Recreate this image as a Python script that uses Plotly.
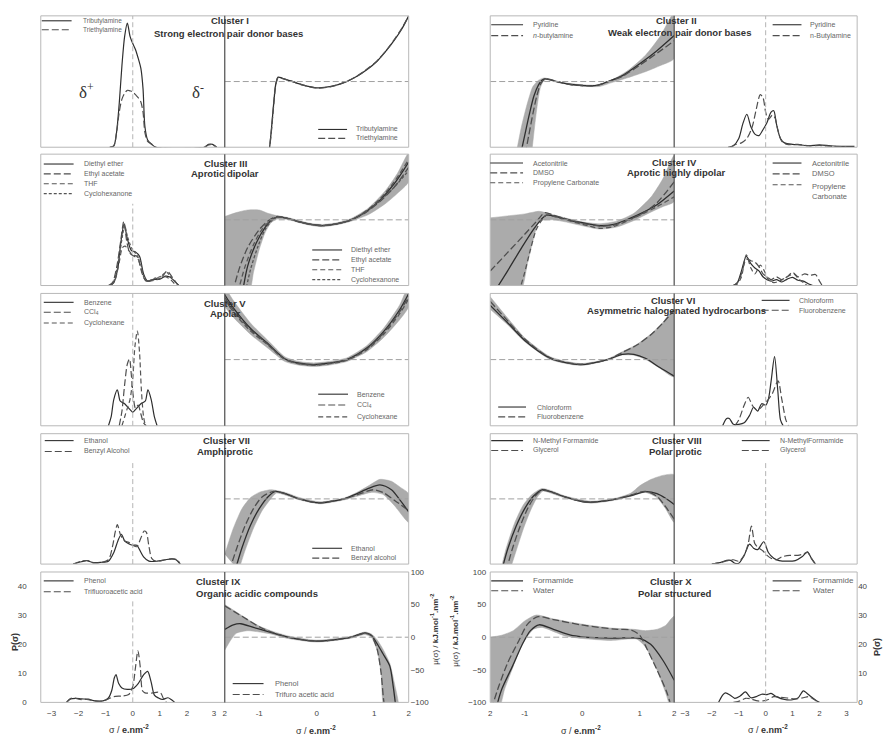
import plotly.graph_objects as go

# ===================== DATA =====================
# sigma in e.nm^-2 ; profile P(sigma) ; potential mu(sigma) in kJ.mol^-1.nm^-2

# --- Cluster I
c1_title = ["Cluster I", "Strong electron pair donor bases"]
c1_names = ["Tributylamine", "Triethylamine"]
c1_prof_sigma = [-0.85, -0.7, -0.6, -0.5, -0.4, -0.3, -0.2, -0.1, 0.0, 0.1, 0.2, 0.3, 0.38, 0.45, 0.55, 0.7, 0.85, 2.65, 2.8, 2.95, 3.1]
c1_prof_tributylamine = [0, 0.5, 5, 15, 28, 38, 42.5, 38, 35.5, 33.5, 30.5, 27, 20, 7, 2.5, 1, 0, 0, 1, 1, 0]
c1_prof_triethylamine = [0, 0.5, 5, 12, 16.5, 18.5, 19.5, 19.3, 19, 18, 17, 15.5, 12, 5, 2, 1, 0, 0, 0.8, 0.8, 0]
c1_pot_sigma = [-0.83, -0.79, -0.75, -0.71, -0.67, -0.6, -0.45, -0.25, 0.0, 0.25, 0.52, 0.7, 0.87, 1.05, 1.21, 1.35, 1.48, 1.6]
c1_pot_tributylamine = [-110, -75, -35, -3, 6.8, 5, 1, -5, -9.5, -7.5, 0, 8, 18, 31, 47, 63, 80, 100]
c1_pot_triethylamine = [-110, -77, -37, -4, 6.5, 4.8, 0.8, -5.2, -9.8, -7.8, 0, 8.2, 18.5, 31.5, 47.5, 64, 81, 100]

# --- Cluster II
c2_title = ["Cluster II", "Weak electron pair donor bases"]
c2_pot_names = ["Pyridine", "<i>n</i>-butylamine"]
c2_prof_names = ["Pyridine", "n-Butylamine"]
c2_prof_pyridine_sigma = [-1.4, -1.2, -1.0, -0.85, -0.7, -0.55, -0.4, -0.25, -0.1, 0.05, 0.2, 0.3, 0.4, 0.55, 0.7, 1.0, 1.3, 1.6, 2.0, 2.4, 2.8, 3.3]
c2_prof_pyridine = [0, 0.5, 3, 8, 11.3, 7, 4.5, 4, 6, 8.5, 12, 12.5, 8, 3, 1.5, 1, 0.8, 0.5, 0.8, 0.5, 0.3, 0.3]
c2_prof_butylamine_sigma = [-1.3, -1.1, -0.9, -0.7, -0.5, -0.35, -0.2, -0.1, 0.0, 0.1, 0.25, 0.35, 0.45, 0.6, 0.8, 1.2, 1.6, 2.0, 2.5, 3.0]
c2_prof_butylamine = [0, 1, 1.5, 3, 7, 13, 18, 17, 12, 9.5, 11, 10, 6, 2, 1, 1, 0.5, 0.6, 0.3, 0.2]
c2_pot_pyridine_sigma = [-1.07, -1.0, -0.92, -0.84, -0.76, -0.7, -0.65, -0.55, -0.4, -0.2, 0.0, 0.25, 0.45, 0.7, 1.0, 1.3, 1.6]
c2_pot_pyridine = [-110, -82, -50, -22, -5, 2, 4, 2.5, -1, -4.5, -6, -6, 0, 9, 27, 47, 70]
c2_pot_butylamine_sigma = [-0.99, -0.93, -0.86, -0.79, -0.73, -0.68, -0.63, -0.55, -0.4, -0.2, 0.0, 0.25, 0.45, 0.7, 1.0, 1.3, 1.6]
c2_pot_butylamine = [-110, -82, -50, -22, -5, 1.5, 4, 3, -1, -4.5, -6, -6, 0, 8, 25, 43, 62]
c2_band_upper_sigma = [-1.15, -1.06, -0.96, -0.86, -0.76, -0.66, -0.4, 0.0, 0.3, 0.5, 0.8, 1.1, 1.35, 1.6]
c2_band_upper = [-110, -70, -35, -8, 2, 5.5, -0.5, -5, -5, 1.5, 17, 40, 68, 105]
c2_band_lower_sigma = [-0.88, -0.83, -0.78, -0.73, -0.68, -0.63, -0.4, 0.0, 0.3, 0.5, 0.8, 1.1, 1.35, 1.6]
c2_band_lower = [-110, -70, -35, -10, 0, 3, -2, -7, -7.5, -2, 6, 15, 24, 35]

# --- Cluster III
c3_title = ["Cluster III", "Aprotic dipolar"]
c3_names = ["Diethyl ether", "Ethyl acetate", "THF", "Cyclohexanone"]
c3_prof_ether_sigma = [-0.85, -0.7, -0.55, -0.45, -0.32, -0.2, -0.05, 0.1, 0.25, 0.4, 0.55, 0.75, 1.0, 1.2, 1.35, 1.55, 1.7]
c3_prof_ether = [0, 1, 6, 14, 21, 16, 12, 11.5, 10, 4, 1.5, 2, 2.2, 3.2, 3, 1.5, 0]
c3_prof_acetate_sigma = [-0.9, -0.75, -0.6, -0.45, -0.33, -0.22, -0.1, 0.05, 0.2, 0.35, 0.5, 0.7, 0.9, 1.1, 1.27, 1.45, 1.6, 1.7]
c3_prof_acetate = [0, 1, 6, 15, 22, 15, 11, 10, 9, 4, 1.5, 2, 2.5, 3.3, 5, 3, 1, 0]
c3_prof_thf_sigma = [-0.8, -0.65, -0.5, -0.38, -0.28, -0.15, 0.0, 0.15, 0.3, 0.45, 0.6, 0.9, 1.2, 1.4, 1.6]
c3_prof_thf = [0, 2, 8, 13, 13.5, 12, 10.5, 10, 6, 2, 1.5, 2, 3, 2, 0]
c3_prof_cyclohexanone_sigma = [-0.85, -0.7, -0.5, -0.38, -0.3, -0.2, -0.05, 0.1, 0.25, 0.4, 0.55, 0.8, 1.0, 1.25, 1.4, 1.6, 1.7]
c3_prof_cyclohexanone = [0, 1.5, 10, 17, 20.5, 17, 13, 11, 9, 3.5, 1.5, 2.5, 3, 4.5, 3, 1, 0]
c3_pot_ether_sigma = [-1.29, -1.2, -1.05, -0.9, -0.78, -0.68, -0.5, -0.3, -0.1, 0.1, 0.35, 0.6, 0.85, 1.1, 1.35, 1.6]
c3_pot_ether = [-110, -70, -35, -12, 0, 4.5, 2, -3, -7, -8.7, -6, 0, 12, 30, 55, 88]
c3_pot_acetate_sigma = [-1.46, -1.35, -1.2, -1.0, -0.85, -0.7, -0.5, -0.3, -0.1, 0.1, 0.35, 0.6, 0.85, 1.1, 1.35, 1.6]
c3_pot_acetate = [-110, -75, -42, -15, -2, 5, 2, -3, -7, -8.7, -6, 0, 11, 28, 50, 80]
c3_pot_thf_sigma = [-1.37, -1.25, -1.1, -0.95, -0.8, -0.68, -0.5, -0.3, -0.1, 0.1, 0.35, 0.6, 0.85, 1.1, 1.35, 1.6]
c3_pot_thf = [-110, -72, -38, -14, -1, 4.5, 2, -3, -7, -8.7, -6, 0, 13, 32, 58, 92]
c3_pot_cyclohexanone_sigma = [-1.24, -1.15, -1.02, -0.9, -0.78, -0.68, -0.5, -0.3, -0.1, 0.1, 0.35, 0.6, 0.85, 1.1, 1.35, 1.6]
c3_pot_cyclohexanone = [-110, -75, -40, -15, -1, 4.5, 2, -3, -7, -8.7, -6, 0, 12, 29, 50, 75]
c3_band_upper_sigma = [-1.6, -1.4, -1.2, -1.0, -0.85, -0.7, -0.5, -0.3, -0.1, 0.1, 0.35, 0.6, 0.9, 1.2, 1.4, 1.6]
c3_band_upper = [5, 11, 15, 15, 10, 6.5, 3.5, -1.5, -5.5, -7, -4.5, 2, 18, 45, 70, 102]
c3_band_lower_sigma = [-1.6, -1.18, -1.1, -1.0, -0.9, -0.8, -0.7, -0.5, -0.3, -0.1, 0.1, 0.35, 0.6, 0.9, 1.2, 1.4, 1.6]
c3_band_lower = [-110, -110, -80, -45, -20, -5, 1, 0.5, -4.5, -8.5, -10.5, -7.5, -2, 8, 25, 40, 58]

# --- Cluster IV
c4_title = ["Cluster IV", "Aprotic highly dipolar"]
c4_pot_names = ["Acetonitrile", "DMSO", "Propylene Carbonate"]
c4_prof_names = ["Acetonitrile", "DMSO", "Propylene<br>Carbonate"]
c4_prof_acetonitrile_sigma = [-1.2, -1.05, -0.9, -0.72, -0.55, -0.4, -0.25, -0.1, 0.05, 0.2, 0.4, 0.6, 0.8, 1.0, 1.2, 1.4, 1.6, 1.75]
c4_prof_acetonitrile = [0, 1, 5, 10, 7.5, 6, 5, 3, 2, 1.5, 2, 1.2, 2.2, 2.8, 1.8, 1.5, 0.5, 0]
c4_prof_dmso_sigma = [-1.2, -1.05, -0.9, -0.72, -0.55, -0.4, -0.25, -0.1, 0.05, 0.2, 0.4, 0.6, 0.8, 1.0, 1.2, 1.45, 1.65, 1.85, 2.0, 2.1]
c4_prof_dmso = [0, 1, 4, 9, 8.5, 8, 6.5, 4, 3, 2, 3, 2, 3, 4.5, 3, 4, 3.5, 3.8, 1.5, 0]
c4_prof_carbonate_sigma = [-1.2, -1.05, -0.9, -0.72, -0.55, -0.4, -0.2, -0.05, 0.1, 0.3, 0.5, 0.7, 0.9, 1.05, 1.2, 1.4, 1.55]
c4_prof_carbonate = [0, 0.5, 3, 10.5, 6, 4, 7, 5, 2, 1, 1.5, 2.5, 3.5, 4, 2.5, 1, 0]
c4_pot_acetonitrile_sigma = [-1.53, -1.3, -1.05, -0.85, -0.72, -0.62, -0.45, -0.2, 0.1, 0.32, 0.55, 0.8, 1.05, 1.3, 1.6]
c4_pot_acetonitrile = [-110, -78, -42, -15, 0, 7, 5, -1, -6, -9, -7, 1, 11, 23, 44]
c4_pot_dmso_sigma = [-1.6, -1.3, -1.0, -0.8, -0.65, -0.5, -0.3, 0.0, 0.32, 0.55, 0.8, 1.05, 1.3, 1.6]
c4_pot_dmso = [-78, -50, -22, -3, 11, 7, 2, -5, -9.5, -8, 0, 10, 26, 58]
c4_pot_carbonate_sigma = [-1.1, -1.0, -0.9, -0.8, -0.7, -0.62, -0.45, -0.2, 0.1, 0.32, 0.55, 0.8, 1.05, 1.3, 1.6]
c4_pot_carbonate = [-110, -80, -45, -15, 0, 7, 4, -2, -9, -13, -10, -1, 9, 20, 35]
c4_band_upper_sigma = [-1.6, -1.3, -1.0, -0.75, -0.6, -0.3, 0.0, 0.3, 0.6, 0.9, 1.2, 1.4, 1.6]
c4_band_upper = [3, 6, 9, 13, 10, 3, -3, -6, -2, 10, 35, 62, 98]
c4_band_lower_sigma = [-1.6, -1.08, -0.95, -0.85, -0.78, -0.7, -0.5, -0.3, 0.0, 0.3, 0.6, 0.9, 1.2, 1.4, 1.6]
c4_band_lower = [-110, -110, -65, -30, -8, -1, 0, -3, -9, -14, -11, -1, 12, 20, 28]

# --- Cluster V
c5_title = ["Cluster V", "Apolar"]
c5_names = ["Benzene", "CCl<sub>4</sub>", "Cyclohexane"]
c5_prof_benzene_sigma = [-0.9, -0.8, -0.7, -0.57, -0.47, -0.4, -0.3, -0.2, -0.1, 0.0, 0.1, 0.2, 0.3, 0.4, 0.47, 0.56, 0.68, 0.8, 0.9]
c5_prof_benzene = [0, 3, 9, 12.2, 8.5, 8, 7.5, 6.5, 5.5, 4.6, 5.5, 6.5, 7.5, 8, 8.5, 12.2, 9, 3, 0]
c5_prof_ccl4_sigma = [-0.5, -0.4, -0.3, -0.2, -0.12, -0.05, 0.02, 0.1, 0.2, 0.3, 0.4, 0.5]
c5_prof_ccl4 = [0, 5, 14, 21, 22.7, 17, 10, 6, 7, 4, 1, 0]
c5_prof_cyclohexane_sigma = [-0.4, -0.3, -0.2, -0.1, 0.0, 0.08, 0.17, 0.25, 0.32, 0.4, 0.47]
c5_prof_cyclohexane = [0, 3, 6, 9, 16, 27, 32.2, 25, 12, 3, 0]
c5_pot_sigma = [-1.6, -1.44, -1.15, -0.86, -0.55, -0.3, -0.05, 0.2, 0.52, 0.87, 1.16, 1.44, 1.6]
c5_pot_benzene = [98, 77, 47, 25, 1, -5.5, -7.5, -5.5, 0, 17.5, 42, 75, 100]
c5_pot_ccl4 = [94, 74, 45, 24, 0.5, -6, -8, -6, -0.5, 16, 40, 72, 96]
c5_pot_cyclohexane = [90, 71, 43, 23, 0, -6.5, -8.5, -6.5, -1, 15, 38, 69, 92]
c5_band_upper = [110, 88, 55, 30, 4, -3, -5, -3, 2.5, 21, 47, 82, 112]
c5_band_lower = [80, 63, 38, 18, -3, -8.5, -10.5, -8.5, -3, 12, 33, 60, 80]

# --- Cluster VI
c6_title = ["Cluster VI", "Asymmetric halogenated hydrocarbons"]
c6_names = ["Chloroform", "Fluorobenzene"]
c6_prof_chloroform_sigma = [-1.6, -1.45, -1.35, -1.2, -1.0, -0.8, -0.6, -0.45, -0.3, -0.15, 0.0, 0.1, 0.2, 0.33, 0.45, 0.55, 0.65]
c6_prof_chloroform = [0, 2.5, 2.5, 0.5, 0.5, 1, 3.5, 6.3, 5, 7.5, 7, 9, 15, 23.5, 12, 2, 0]
c6_prof_fluorobenzene_sigma = [-1.15, -1.0, -0.8, -0.65, -0.5, -0.35, -0.2, -0.05, 0.1, 0.25, 0.46, 0.6, 0.75, 0.85]
c6_prof_fluorobenzene = [0, 2, 7, 9.7, 7, 5.5, 6, 7.5, 9, 11, 15.3, 9, 2, 0]
c6_pot_chloroform_sigma = [-1.6, -1.29, -1.0, -0.55, -0.03, 0.44, 0.7, 0.9, 1.1, 1.35, 1.6]
c6_pot_chloroform = [82, 55, 29, 2, -7.5, 0, 8, 8, 2, -12, -25]
c6_pot_fluorobenzene_sigma = [-1.6, -1.29, -1.0, -0.55, -0.03, 0.44, 0.7, 0.95, 1.2, 1.4, 1.6]
c6_pot_fluorobenzene = [88, 58, 31, 2.5, -7, 0, 11, 22, 38, 55, 75]
c6_band_upper_sigma = [-1.6, -1.29, -1.0, -0.55, -0.03, 0.44, 0.7, 0.95, 1.2, 1.4, 1.6]
c6_band_upper = [95, 62, 33, 4, -6, 1, 12, 23, 39, 56, 76]
c6_band_lower_sigma = [-1.6, -1.29, -1.0, -0.55, -0.03, 0.44, 0.7, 0.9, 1.1, 1.35, 1.6]
c6_band_lower = [76, 52, 27, 0, -9, -1, 7, 6.5, 0.5, -13, -26]

# --- Cluster VII
c7_title = ["Cluster VII", "Amphiprotic"]
c7_prof_names = ["Ethanol", "Benzyl Alcohol"]
c7_pot_names = ["Ethanol", "Benzyl alcohol"]
c7_prof_ethanol_sigma = [-2.2, -1.9, -1.7, -1.5, -1.2, -0.9, -0.7, -0.55, -0.42, -0.3, -0.15, 0.0, 0.15, 0.25, 0.4, 0.6, 0.9, 1.2, 1.45, 1.6, 1.75]
c7_prof_ethanol = [0, 0.8, 1.2, 0.6, 0.6, 1, 4, 8, 10.3, 8, 7, 6.5, 6.5, 5, 2.5, 1, 1, 1.5, 1.8, 1.5, 0]
c7_prof_benzyl_sigma = [-2.2, -1.9, -1.65, -1.5, -1.2, -0.9, -0.75, -0.65, -0.57, -0.45, -0.3, -0.15, 0.0, 0.15, 0.3, 0.42, 0.5, 0.6, 0.7, 0.85, 1.2, 1.45, 1.65, 1.75]
c7_prof_benzyl = [0, 1, 1.2, 0.5, 0.5, 1.5, 6, 11, 13.6, 10, 8, 7.5, 6.5, 6, 9, 11.4, 11, 6, 2, 1, 1.5, 1.8, 1.5, 0]
c7_pot_ethanol_sigma = [-1.42, -1.3, -1.15, -1.0, -0.85, -0.72, -0.55, -0.3, -0.1, 0.06, 0.3, 0.48, 0.7, 0.9, 1.1, 1.3, 1.45, 1.6]
c7_pot_ethanol = [-110, -75, -40, -15, 3, 11.5, 8, 0, -4.5, -6, -3, 0, 8, 16, 21.5, 14, -2, -20]
c7_pot_benzyl_sigma = [-1.52, -1.4, -1.25, -1.1, -0.95, -0.75, -0.55, -0.3, -0.1, 0.06, 0.3, 0.48, 0.7, 0.98, 1.15, 1.35, 1.6]
c7_pot_benzyl = [-110, -78, -42, -15, 3, 11.5, 8, 0, -4.5, -6, -3, 0, 6, 14, 10, -2, -18]
c7_band_upper_sigma = [-1.6, -1.45, -1.3, -1.15, -1.0, -0.8, -0.55, -0.3, 0.06, 0.48, 0.7, 0.9, 1.1, 1.3, 1.45, 1.6]
c7_band_upper = [-85, -45, -15, 2, 10, 14, 10, 2, -4.5, 1.5, 10, 20, 30, 27, 18, 8]
c7_band_lower_sigma = [-1.36, -1.25, -1.1, -0.95, -0.8, -0.7, -0.55, -0.3, 0.06, 0.48, 0.7, 0.95, 1.15, 1.35, 1.6]
c7_band_lower = [-110, -80, -45, -18, 0, 9, 6, -1.5, -7.5, -1.5, 4, 10, 7, -10, -36]

# --- Cluster VIII
c8_title = ["Cluster VIII", "Polar protic"]
c8_pot_names = ["N-Methyl Formamide", "Glycerol"]
c8_prof_names = ["N-MethylFormamide", "Glycerol"]
c8_prof_nmf_sigma = [-2.0, -1.7, -1.45, -1.3, -1.15, -1.0, -0.8, -0.6, -0.45, -0.3, -0.07, 0.1, 0.3, 0.5, 0.8, 1.1, 1.35, 1.55, 1.7, 1.85]
c8_prof_nmf = [0, 0.5, 1.3, 1.3, 0.3, 0.3, 3, 6.9, 5.5, 5, 7.7, 4, 2, 1.2, 1, 1.2, 2.5, 4.2, 2, 0]
c8_prof_glycerol_sigma = [-2.0, -1.7, -1.4, -1.2, -1.0, -0.8, -0.65, -0.53, -0.4, -0.25, -0.1, 0.05, 0.2, 0.4, 0.6, 0.9, 1.2, 1.4, 1.56, 1.7, 1.85]
c8_prof_glycerol = [0, 0.5, 1.2, 1.5, 1, 3, 7, 13.1, 7, 5.5, 4.5, 3, 2, 1.5, 2.5, 3, 3, 3.5, 4, 2, 0]
c8_pot_nmf_sigma = [-1.4, -1.3, -1.15, -1.0, -0.85, -0.7, -0.55, -0.3, 0.0, 0.15, 0.4, 0.6, 0.85, 1.1, 1.3, 1.45, 1.6]
c8_pot_nmf = [-110, -78, -42, -15, 4, 14, 11, 3, -4, -5, -3, 0, 5, 11, 8, 1, -8.5]
c8_pot_glycerol_sigma = [-1.32, -1.22, -1.08, -0.95, -0.82, -0.7, -0.55, -0.3, 0.0, 0.15, 0.4, 0.6, 0.85, 1.1, 1.3, 1.45, 1.6]
c8_pot_glycerol = [-110, -78, -42, -15, 4, 13, 11, 3, -4, -5, -3, 0, 6, 11.5, 4, -12, -31]
c8_band_upper_sigma = [-1.42, -1.32, -1.18, -1.03, -0.87, -0.7, -0.55, -0.3, 0.15, 0.6, 0.85, 1.0, 1.2, 1.4, 1.6]
c8_band_upper = [-110, -75, -38, -10, 7, 16, 13, 4.5, -3.5, 1.5, 9, 20, 30, 36, 37]
c8_band_lower_sigma = [-1.26, -1.15, -1.02, -0.9, -0.78, -0.68, -0.55, -0.3, 0.15, 0.6, 0.85, 1.1, 1.3, 1.45, 1.6]
c8_band_lower = [-110, -80, -45, -18, 3, 12, 9, 1.5, -6.5, -1.5, 4, 10, 2, -15, -36]

# --- Cluster IX
c9_title = ["Cluster IX", "Organic acidic compounds"]
c9_prof_names = ["Phenol", "Trifluoroacetic acid"]
c9_pot_names = ["Phenol", "Trifuro acetic acid"]
c9_prof_phenol_sigma = [-2.45, -2.3, -2.1, -1.9, -1.65, -1.4, -1.1, -0.9, -0.78, -0.68, -0.62, -0.52, -0.4, -0.2, 0.0, 0.2, 0.4, 0.55, 0.68, 0.8, 0.95, 1.1, 1.3, 1.42, 1.55]
c9_prof_phenol = [0, 1.2, 1.4, 1.2, 1.1, 0.5, 0.5, 1.5, 4, 8.5, 9.6, 6.5, 5, 4.5, 4.7, 6.5, 9.5, 10.7, 7, 2.5, 1.5, 1, 1.6, 1, 0]
c9_prof_tfa_sigma = [-2.45, -2.3, -2.15, -1.95, -1.7, -1.4, -1.1, -0.9, -0.7, -0.4, -0.15, 0.0, 0.1, 0.19, 0.28, 0.36, 0.45, 0.7, 0.95, 1.05, 1.15, 1.25]
c9_prof_tfa = [0, 1.3, 1.5, 1, 1, 0.5, 0.5, 1.2, 2, 2.2, 2.7, 5.5, 12, 17.8, 12, 4, 3.3, 3.2, 3.5, 3, 1, 0]
c9_pot_phenol_sigma = [-1.6, -1.45, -1.32, -1.1, -0.86, -0.6, -0.3, 0.0, 0.3, 0.6, 0.84, 0.95, 1.04, 1.15, 1.27, 1.33, 1.38]
c9_pot_phenol = [12, 19, 20.6, 15, 9, 2.5, -3.5, -6, -4, 0, 6.5, 3, -8.5, -25, -44, -75, -110]
c9_pot_tfa_sigma = [-1.6, -1.3, -1.0, -0.8, -0.5, -0.2, 0.0, 0.3, 0.6, 0.84, 0.95, 1.05, 1.12, 1.17, 1.2]
c9_pot_tfa = [48, 32, 16, 8, 0, -4.5, -6, -4.5, 0, 6, 2, -18, -55, -100, -110]
c9_band_upper_sigma = [-1.6, -1.3, -1.0, -0.8, -0.5, 0.0, 0.6, 0.84, 0.95, 1.05, 1.15, 1.27, 1.35, 1.42]
c9_band_upper = [50, 33, 17, 10, 2, -4.5, 1.5, 8, 5, -4, -18, -40, -70, -110]
c9_band_lower_sigma = [-1.6, -1.5, -1.4, -1.2, -1.0, -0.8, -0.5, 0.0, 0.6, 0.84, 0.95, 1.05, 1.12, 1.18]
c9_band_lower = [-20, -5, 6, 10, 8, 5, -2, -7.5, -1.5, 4, 0, -20, -55, -110]

# --- Cluster X
c10_title = ["Cluster X", "Polar structured"]
c10_names = ["Formamide", "Water"]
c10_prof_formamide_sigma = [-1.75, -1.6, -1.5, -1.3, -1.15, -0.95, -0.75, -0.55, -0.35, -0.15, 0.05, 0.2, 0.4, 0.7, 1.0, 1.2, 1.4, 1.55, 1.75, 1.9, 2.0]
c10_prof_formamide = [0, 2.5, 3.3, 2.4, 1.4, 2.2, 3.6, 1.6, 2, 2.8, 2.7, 3.1, 2, 1, 0.9, 1.5, 4, 3, 1.5, 0.5, 0]
c10_prof_water_sigma = [-1.2, -0.95, -0.75, -0.55, -0.3, -0.1, 0.1, 0.3, 0.5, 0.8, 1.1, 1.4, 1.6, 1.8, 1.95]
c10_prof_water = [0, 0.5, 1.4, 1.2, 0.5, 0.5, 1, 2, 1.8, 1.5, 1.2, 1.6, 2, 1, 0]
c10_pot_formamide_sigma = [-1.5, -1.4, -1.21, -1.03, -0.9, -0.75, -0.5, -0.2, 0.0, 0.5, 0.9, 1.0, 1.19, 1.4, 1.6]
c10_pot_formamide = [-110, -80, -44, -9, 10, 19, 12, 3, 0.5, -1.5, -1, -2, -11, -35, -66]
c10_pot_water_sigma = [-1.58, -1.45, -1.3, -1.1, -0.95, -0.77, -0.5, -0.03, 0.3, 0.61, 0.85, 1.0, 1.13, 1.3, 1.47, 1.56]
c10_pot_water = [-110, -75, -40, -5, 20, 31.5, 27, 19, 15, 12, 11, 3, -18.5, -50, -84, -110]
c10_band_upper_sigma = [-1.6, -1.4, -1.2, -1.0, -0.8, -0.5, 0.0, 0.5, 0.9, 1.1, 1.3, 1.45, 1.6]
c10_band_upper = [0, 3, 10, 25, 34, 28, 20, 14, 12, 10, 12, 18, 32]
c10_band_lower_sigma = [-1.6, -1.45, -1.35, -1.2, -1.05, -0.85, -0.7, -0.3, 0.0, 0.5, 0.95, 1.1, 1.3, 1.45, 1.55, 1.6]
c10_band_lower = [-110, -110, -80, -45, -12, 12, 15, 2, -2, -5, -3, -15, -50, -85, -110, -110]

# axis tick labels
profile_ticks = [-3, -2, -1, 0, 1, 2, 3]
potential_tickvals = [-1.599, -1, 0, 1, 1.599]
potential_ticktext = ["2", "-1", "0", "1", "2"]
profile_yticks = [0, 10, 20, 30, 40]
potential_yticks = [-100, -50, 0, 50, 100]

# ===================== PANEL SPECS =====================
CLUSTERS = [
    dict(title=c1_title, prof_names=c1_names, pot_names=c1_names,
         prof=[(c1_prof_sigma, c1_prof_tributylamine), (c1_prof_sigma, c1_prof_triethylamine)],
         pot=[(c1_pot_sigma, c1_pot_tributylamine), (c1_pot_sigma, c1_pot_triethylamine)],
         band=None),
    dict(title=c2_title, prof_names=c2_prof_names, pot_names=c2_pot_names,
         prof=[(c2_prof_pyridine_sigma, c2_prof_pyridine), (c2_prof_butylamine_sigma, c2_prof_butylamine)],
         pot=[(c2_pot_pyridine_sigma, c2_pot_pyridine), (c2_pot_butylamine_sigma, c2_pot_butylamine)],
         band=(c2_band_upper_sigma, c2_band_upper, c2_band_lower_sigma, c2_band_lower)),
    dict(title=c3_title, prof_names=c3_names, pot_names=c3_names,
         prof=[(c3_prof_ether_sigma, c3_prof_ether), (c3_prof_acetate_sigma, c3_prof_acetate),
               (c3_prof_thf_sigma, c3_prof_thf), (c3_prof_cyclohexanone_sigma, c3_prof_cyclohexanone)],
         pot=[(c3_pot_ether_sigma, c3_pot_ether), (c3_pot_acetate_sigma, c3_pot_acetate),
              (c3_pot_thf_sigma, c3_pot_thf), (c3_pot_cyclohexanone_sigma, c3_pot_cyclohexanone)],
         band=(c3_band_upper_sigma, c3_band_upper, c3_band_lower_sigma, c3_band_lower)),
    dict(title=c4_title, prof_names=c4_prof_names, pot_names=c4_pot_names,
         prof=[(c4_prof_acetonitrile_sigma, c4_prof_acetonitrile), (c4_prof_dmso_sigma, c4_prof_dmso),
               (c4_prof_carbonate_sigma, c4_prof_carbonate)],
         pot=[(c4_pot_acetonitrile_sigma, c4_pot_acetonitrile), (c4_pot_dmso_sigma, c4_pot_dmso),
              (c4_pot_carbonate_sigma, c4_pot_carbonate)],
         band=(c4_band_upper_sigma, c4_band_upper, c4_band_lower_sigma, c4_band_lower)),
    dict(title=c5_title, prof_names=c5_names, pot_names=c5_names,
         prof=[(c5_prof_benzene_sigma, c5_prof_benzene), (c5_prof_ccl4_sigma, c5_prof_ccl4),
               (c5_prof_cyclohexane_sigma, c5_prof_cyclohexane)],
         pot=[(c5_pot_sigma, c5_pot_benzene), (c5_pot_sigma, c5_pot_ccl4), (c5_pot_sigma, c5_pot_cyclohexane)],
         band=(c5_pot_sigma, c5_band_upper, c5_pot_sigma, c5_band_lower)),
    dict(title=c6_title, prof_names=c6_names, pot_names=c6_names,
         prof=[(c6_prof_chloroform_sigma, c6_prof_chloroform), (c6_prof_fluorobenzene_sigma, c6_prof_fluorobenzene)],
         pot=[(c6_pot_chloroform_sigma, c6_pot_chloroform), (c6_pot_fluorobenzene_sigma, c6_pot_fluorobenzene)],
         band=(c6_band_upper_sigma, c6_band_upper, c6_band_lower_sigma, c6_band_lower)),
    dict(title=c7_title, prof_names=c7_prof_names, pot_names=c7_pot_names,
         prof=[(c7_prof_ethanol_sigma, c7_prof_ethanol), (c7_prof_benzyl_sigma, c7_prof_benzyl)],
         pot=[(c7_pot_ethanol_sigma, c7_pot_ethanol), (c7_pot_benzyl_sigma, c7_pot_benzyl)],
         band=(c7_band_upper_sigma, c7_band_upper, c7_band_lower_sigma, c7_band_lower)),
    dict(title=c8_title, prof_names=c8_prof_names, pot_names=c8_pot_names,
         prof=[(c8_prof_nmf_sigma, c8_prof_nmf), (c8_prof_glycerol_sigma, c8_prof_glycerol)],
         pot=[(c8_pot_nmf_sigma, c8_pot_nmf), (c8_pot_glycerol_sigma, c8_pot_glycerol)],
         band=(c8_band_upper_sigma, c8_band_upper, c8_band_lower_sigma, c8_band_lower)),
    dict(title=c9_title, prof_names=c9_prof_names, pot_names=c9_pot_names,
         prof=[(c9_prof_phenol_sigma, c9_prof_phenol), (c9_prof_tfa_sigma, c9_prof_tfa)],
         pot=[(c9_pot_phenol_sigma, c9_pot_phenol), (c9_pot_tfa_sigma, c9_pot_tfa)],
         band=(c9_band_upper_sigma, c9_band_upper, c9_band_lower_sigma, c9_band_lower)),
    dict(title=c10_title, prof_names=c10_names, pot_names=c10_names,
         prof=[(c10_prof_formamide_sigma, c10_prof_formamide), (c10_prof_water_sigma, c10_prof_water)],
         pot=[(c10_pot_formamide_sigma, c10_pot_formamide), (c10_pot_water_sigma, c10_pot_water)],
         band=(c10_band_upper_sigma, c10_band_upper, c10_band_lower_sigma, c10_band_lower)),
]

# ===================== STYLE / LAYOUT =====================
W, H = 887, 738
def fx(px): return px / W
def fy(py): return 1 - py / H

ROWS = [(12, 145), (152, 285), (293, 427), (435, 567), (575, 707)]
LEFT_COL = dict(prof=(39, 224), pot=(224, 409))
RIGHT_COL = dict(pot=(491, 676), prof=(676, 860))

DASHES = ["solid", "7px,3px", "5px,3px", "3px,2px"]
LCOLORS = ["#2e2e2e", "#4e4e4e", "#555555", "#555555"]
BAND_COLOR = "#ababab"
FONT = "Liberation Sans, Arial, sans-serif"

TITLE_POS = [
    [(229.7, 17), (227.3, 30)], [(678.7, 17), (681, 29)],
    [(224.7, 161), (223.8, 172)], [(676.2, 160), (678.2, 171)],
    [(224.7, 303), (224.2, 313)], [(675.3, 300), (678.2, 310)],
    [(225.5, 442), (224, 453)], [(678.7, 442), (677.3, 453)],
    [(218, 585), (256.8, 597)], [(672.7, 585), (677, 597)],
]
LEG = [
    dict(prof=(40, 70, 79, [17, 26], 6.5), pot=(318, 347, 354, [127, 136], 7)),
    dict(pot=(492, 524, 532, [21, 32], 7), prof=(775, 804, 811, [21, 32], 7)),
    dict(prof=(42, 72, 80, [162, 172, 182, 192], 7), pot=(312, 342, 349, [249, 259, 269, 279], 7)),
    dict(pot=(491, 524, 532, [161, 171, 181], 7), prof=(775, 804, 813, [161, 172, 183], 7.5)),
    dict(prof=(42, 72, 80, [302, 312, 323], 7), pot=(318, 348, 355, [395, 406, 418], 7)),
    dict(prof=(764, 792, 800, [300, 310], 7), pot=(499, 527, 536, [408, 418], 7)),
    dict(prof=(43, 72, 80, [442, 453], 7), pot=(312, 342, 349, [551, 561], 7)),
    dict(pot=(492, 524, 532, [442, 452], 7), prof=(744, 772, 780, [442, 452], 7)),
    dict(prof=(42, 72, 80, [584, 595], 7), pot=(232, 263, 273, [688, 699], 7.5)),
    dict(pot=(492, 524, 532, [584, 594], 8), prof=(775, 804, 814, [584, 594], 8)),
]
VLINE_TOP = [45, 45, 28, 45, 45, 36, 35, 35, 35, 45]

fig = go.Figure()
layout = {}
shapes = []
annotations = []


def ref(kind, n):
    return kind if n == 1 else f"{kind}{n}"


def axkey(kind, n):
    return f"{kind}axis" if n == 1 else f"{kind}axis{n}"


def add_legend(labels, spec):
    x0, x1, xt, rows, size = spec
    for i, (lab, yy) in enumerate(zip(labels, rows)):
        shapes.append(dict(type="line", xref="paper", yref="paper", x0=fx(x0), x1=fx(x1),
                           y0=fy(yy), y1=fy(yy), line=dict(color=LCOLORS[i], width=1.1, dash=DASHES[i])))
        if "<br>" in lab:
            annotations.append(dict(text=lab, x=fx(xt), y=fy(yy - size * 0.65), xref="paper", yref="paper",
                                    xanchor="left", yanchor="top", align="left", showarrow=False,
                                    font=dict(size=size, color="#666", family=FONT)))
        else:
            annotations.append(dict(text=lab, x=fx(xt), y=fy(yy), xref="paper", yref="paper",
                                    xanchor="left", yanchor="middle", showarrow=False,
                                    font=dict(size=size, color="#666", family=FONT)))


tickfont = dict(size=8, color="#444", family=FONT)

for k, c in enumerate(CLUSTERS):
    row, col = k // 2, k % 2
    top, bot = ROWS[row]
    cols = LEFT_COL if col == 0 else RIGHT_COL
    bottom = row == 4
    n_prof, n_pot = 2 * k + 1, 2 * k + 2

    layout[axkey("x", n_prof)] = dict(
        domain=[fx(cols["prof"][0]), fx(cols["prof"][1])], range=[-3.4, 3.4], anchor=ref("y", n_prof),
        showgrid=False, zeroline=False, showline=False, fixedrange=True,
        showticklabels=bottom, tickvals=profile_ticks, ticks="", ticklabelstandoff=5, tickfont=tickfont)
    layout[axkey("y", n_prof)] = dict(
        domain=[fy(bot), fy(top)], range=[0, 45], anchor=ref("x", n_prof),
        side="left" if col == 0 else "right",
        showgrid=False, zeroline=False, showline=False, fixedrange=True,
        showticklabels=bottom, tickvals=profile_yticks, ticks="",
        ticklabelstandoff=13 if col == 0 else 0, tickfont=tickfont)
    layout[axkey("x", n_pot)] = dict(
        domain=[fx(cols["pot"][0]), fx(cols["pot"][1])], range=[-1.6, 1.6], anchor=ref("y", n_pot),
        showgrid=False, zeroline=False, showline=False, fixedrange=True,
        showticklabels=bottom, tickvals=potential_tickvals, ticktext=potential_ticktext,
        ticks="", ticklabelstandoff=5, tickfont=tickfont)
    layout[axkey("y", n_pot)] = dict(
        domain=[fy(bot), fy(top)], range=[-100, 100], anchor=ref("x", n_pot),
        side="right" if col == 0 else "left",
        showgrid=False, zeroline=False, showline=False, fixedrange=True,
        showticklabels=bottom, tickvals=potential_yticks, ticks="",
        ticklabelstandoff=1 if col == 0 else 3, tickfont=tickfont)

    xp, yp = ref("x", n_prof), ref("y", n_prof)
    xq, yq = ref("x", n_pot), ref("y", n_pot)

    if c["band"] is not None:
        us, uv, ls, lv = c["band"]
        fig.add_trace(go.Scatter(x=list(us) + list(ls)[::-1], y=list(uv) + list(lv)[::-1],
                                 xaxis=xq, yaxis=yq, mode="lines", fill="toself",
                                 fillcolor=BAND_COLOR, line=dict(width=0.5, color=BAND_COLOR, shape="spline", smoothing=0.6),
                                 hoverinfo="skip", showlegend=False))
    for i, (s, v) in enumerate(c["pot"]):
        fig.add_trace(go.Scatter(x=s, y=v, xaxis=xq, yaxis=yq, mode="lines",
                                 line=dict(color=LCOLORS[i], width=1.3, dash=DASHES[i], shape="spline", smoothing=0.8),
                                 name=c["pot_names"][i], showlegend=False))
    for i, (s, v) in enumerate(c["prof"]):
        fig.add_trace(go.Scatter(x=s, y=v, xaxis=xp, yaxis=yp, mode="lines",
                                 line=dict(color=LCOLORS[i], width=1.2, dash=DASHES[i], shape="spline", smoothing=0.8),
                                 name=c["prof_names"][i], showlegend=False))

    shapes.append(dict(type="line", xref=xq, yref=yq, x0=-1.6, x1=1.6, y0=0, y1=0, layer="above",
                       line=dict(color="#a0a0a0", width=1, dash="6px,3px")))
    shapes.append(dict(type="line", xref=xp, yref=yp, x0=0, x1=0, y0=0, y1=VLINE_TOP[k], layer="above",
                       line=dict(color="#b4b4b4", width=1, dash="5px,3px")))

    x_left = min(cols["prof"][0], cols["pot"][0])
    x_right = max(cols["prof"][1], cols["pot"][1])
    x_div = cols["pot"][0] if col == 0 else cols["pot"][1]
    shapes.append(dict(type="rect", xref="paper", yref="paper", x0=fx(x_left), x1=fx(x_right),
                       y0=fy(bot), y1=fy(top), layer="above", line=dict(color="#b8b8b8", width=1)))
    shapes.append(dict(type="line", xref="paper", yref="paper", x0=fx(x_div), x1=fx(x_div),
                       y0=fy(bot), y1=fy(top), layer="above", line=dict(color="#5a5a5a", width=1.3)))

    for txt, (tx, ty) in zip(c["title"], TITLE_POS[k]):
        annotations.append(dict(text=f"<b>{txt}</b>", x=fx(tx), y=fy(ty), xref="paper", yref="paper",
                                xanchor="center", yanchor="middle", showarrow=False,
                                font=dict(size=9.5, color="#333", family=FONT)))
    add_legend(c["prof_names"], LEG[k]["prof"])
    add_legend(c["pot_names"], LEG[k]["pot"])

serif = "Liberation Serif, Times New Roman, serif"
annotations.append(dict(text="δ<sup>+</sup>", x=fx(75), y=fy(75), xref="paper", yref="paper", showarrow=False,
                        font=dict(size=17, color="#333", family=serif)))
annotations.append(dict(text="δ<sup>-</sup>", x=fx(189), y=fy(75), xref="paper", yref="paper", showarrow=False,
                        font=dict(size=17, color="#333", family=serif)))

axis_title_font = dict(size=9, color="#333", family=FONT)
mu_font = dict(size=8, color="#333", family=FONT)
mu_text = "μ(σ) / <b>kJ.mol<sup>-1</sup>.nm<sup>-2</sup></b>"
sig_text = "σ / <b>e.nm<sup>-2</sup></b>"
annotations += [
    dict(text="<b>P(σ)</b>", x=fx(13), y=fy(646), xref="paper", yref="paper", textangle=-90,
         xanchor="center", yanchor="middle", showarrow=False, font=axis_title_font),
    dict(text="<b>P(σ)</b>", x=fx(880), y=fy(651), xref="paper", yref="paper", textangle=-90,
         xanchor="center", yanchor="middle", showarrow=False, font=axis_title_font),
    dict(text=mu_text, x=fx(435), y=fy(633), xref="paper", yref="paper", textangle=-90,
         xanchor="center", yanchor="middle", showarrow=False, font=mu_font),
    dict(text=mu_text, x=fx(455), y=fy(635), xref="paper", yref="paper", textangle=-90,
         xanchor="center", yanchor="middle", showarrow=False, font=mu_font),
    dict(text=sig_text, x=fx(128), y=fy(734), xref="paper", yref="paper", xanchor="center", yanchor="middle",
         showarrow=False, font=axis_title_font),
    dict(text=sig_text, x=fx(316), y=fy(735), xref="paper", yref="paper", xanchor="center", yanchor="middle",
         showarrow=False, font=axis_title_font),
    dict(text=sig_text, x=fx(582), y=fy(735), xref="paper", yref="paper", xanchor="center", yanchor="middle",
         showarrow=False, font=axis_title_font),
    dict(text=sig_text, x=fx(770), y=fy(734), xref="paper", yref="paper", xanchor="center", yanchor="middle",
         showarrow=False, font=axis_title_font),
]

fig.update_layout(
    width=W, height=H, margin=dict(l=0, r=0, t=0, b=0),
    paper_bgcolor="white", plot_bgcolor="white",
    showlegend=False, shapes=shapes, annotations=annotations,
    font=dict(family=FONT, color="#333"),
    **layout,
)

fig.write_html("out.html", config={"displayModeBar": False},
               post_script="document.body.style.margin='0px';document.body.style.overflow='hidden';")
